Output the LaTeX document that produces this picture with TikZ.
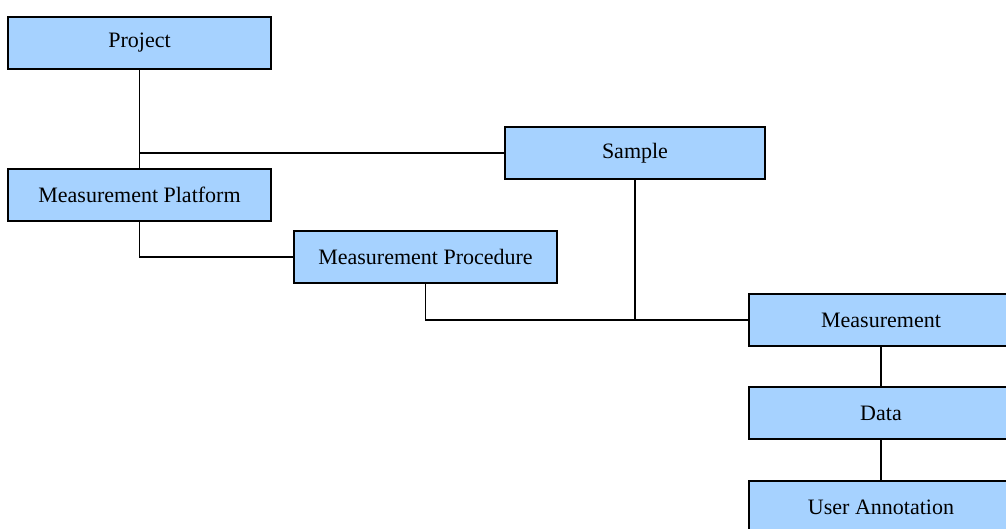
\documentclass[tikz,border=0pt]{standalone}
\usepackage{fontspec}
\setmainfont{Liberation Serif}
\definecolor{boxfill}{RGB}{166,210,255}
\begin{document}
\begin{tikzpicture}[x=1pt,y=-1pt,
  entity/.style={draw=black, fill=boxfill, line width=1.4pt,
    minimum width=263pt, minimum height=52pt, inner sep=0pt,
    font=\fontsize{22}{26}\selectfont},
  link/.style={draw=black, line width=1.4pt}]
  \useasboundingbox (0,0) rectangle (1006,529);
  \clip (0,0) rectangle (1006,529);
  % entity boxes
  \node[entity] (project)  at (139.5,43)  {Project};
  \node[entity] (platform) at (139.5,195) {Measurement Platform};
  \node[entity, minimum width=260pt] (sample) at (635,153) {Sample};
  \node[entity] (proc)     at (425.5,257) {Measurement Procedure};
  \node[entity, minimum width=264pt] (meas)  at (881,320) {Measurement};
  \node[entity, minimum width=264pt] (data)  at (881,413) {Data};
  \node[entity, minimum width=264pt] (annot) at (881,507) {User Annotation};
  % connectors
  \draw[link] (project.south) -- (platform.north);
  \draw[link] (sample.west) -- (sample.west -| project.south);
  \draw[link] (platform.south) |- (proc.west);
  \draw[link] (proc.south) |- (meas.west);
  \draw[link] (sample.south) -- (sample.south |- meas.west);
  \draw[link] (meas.south) -- (data.north);
  \draw[link] (data.south) -- (annot.north);
\end{tikzpicture}
\end{document}
